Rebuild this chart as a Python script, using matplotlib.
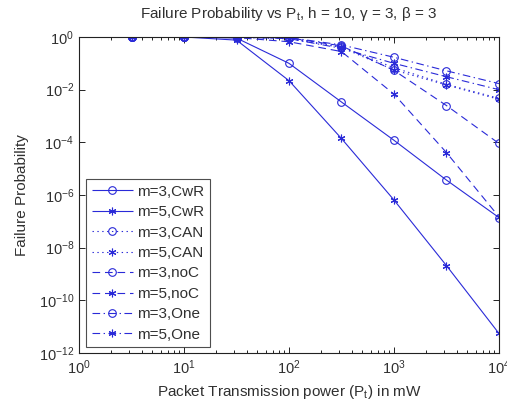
import matplotlib
matplotlib.use("Agg")
import matplotlib.pyplot as plt
from matplotlib.ticker import LogLocator, NullFormatter, NullLocator

plt.rcParams["font.family"] = ["Liberation Sans", "DejaVu Sans"]
plt.rcParams["mathtext.fontset"] = "custom"
plt.rcParams["mathtext.rm"] = "Liberation Sans"
plt.rcParams["mathtext.it"] = "Liberation Sans:italic"
plt.rcParams["lines.scale_dashes"] = False

# transmission power (mW)
POWER = [3.162, 10, 31.62, 100, 316.2, 1000, 3162, 10000]

M3_CWR = [1, 1, 0.91, 0.1, 3.4e-3, 1.2e-4, 3.7e-6, 1.4e-7]
M5_CWR = [1, 1, 0.76, 2.2e-2, 1.4e-4, 6.5e-7, 2.1e-9, 5.6e-12]
M3_CAN = [1, 1, 0.98, 0.89, 0.43, 6.8e-2, 1.6e-2, 4.7e-3]
M5_CAN = [1, 1, 0.98, 0.85, 0.40, 5.6e-2, 1.5e-2, 4.3e-3]
M3_NOC = [1, 1, 0.98, 0.93, 0.46, 5.4e-2, 2.5e-3, 9.1e-5]
M5_NOC = [1, 1, 0.95, 0.66, 0.28, 6.8e-3, 4.1e-5, 1.5e-7]
M3_ONE = [1, 1, 1.0, 0.95, 0.50, 0.17, 5.2e-2, 1.7e-2]
M5_ONE = [1, 1, 0.98, 0.87, 0.37, 0.10, 3.1e-2, 1.0e-2]

LABELS = ["m=3,CwR", "m=5,CwR", "m=3,CAN", "m=5,CAN",
          "m=3,noC", "m=5,noC", "m=3,One", "m=5,One"]

BLUE = "#2a2ad8"
TEXT = "#303030"
STAR = (6, 2, 0)

SOLID = (0, ())
DOTTED = (0, (1.0, 2.5))
DASHED = (0, (5.5, 3.5))
DASHDOT = (0, (5.5, 2.5, 1.0, 2.5))

series = [
    (M3_CWR, SOLID, "o"), (M5_CWR, SOLID, STAR),
    (M3_CAN, DOTTED, "o"), (M5_CAN, DOTTED, STAR),
    (M3_NOC, DASHED, "o"), (M5_NOC, DASHED, STAR),
    (M3_ONE, DASHDOT, "o"), (M5_ONE, DASHDOT, STAR),
]

fig = plt.figure(figsize=(5.07, 4.11), dpi=100)
ax = fig.add_axes([0.156, 0.141, 0.828, 0.769])

for (vals, ls, mk), lab in zip(series, LABELS):
    ax.plot(POWER, vals, linestyle=ls, marker=mk, color=BLUE, linewidth=0.8,
            markersize=5.5, markerfacecolor="none",
            markeredgecolor=BLUE, markeredgewidth=0.8, label=lab)

ax.set_xscale("log")
ax.set_yscale("log")
ax.set_xlim(1, 1e4)
ax.set_ylim(1e-12, 1)
ax.set_yticks([1e-12, 1e-10, 1e-8, 1e-6, 1e-4, 1e-2, 1])
ax.yaxis.set_minor_locator(NullLocator())
ax.xaxis.set_minor_locator(LogLocator(base=10, subs=range(2, 10)))
ax.xaxis.set_minor_formatter(NullFormatter())

ax.tick_params(which="both", direction="in", top=True, right=True,
               colors="#222222", labelcolor=TEXT, labelsize=10.5, width=0.7)
ax.tick_params(which="major", length=4)
ax.tick_params(which="minor", length=2.5)
for s in ax.spines.values():
    s.set_linewidth(0.8)
    s.set_color("#222222")

ax.set_title(r"Failure Probability vs P$_\mathregular{t}$, h = 10, γ = 3, β = 3",
             fontsize=11, color=TEXT, pad=14)
ax.set_xlabel(r"Packet Transmission power (P$_\mathregular{t}$) in mW",
              fontsize=11, color=TEXT, labelpad=5)
ax.set_ylabel("Failure Probability", fontsize=11, color=TEXT, labelpad=7)

leg = ax.legend(loc="lower left", bbox_to_anchor=(0.017, 0.019), fontsize=11,
                frameon=True, fancybox=False, edgecolor="#222222",
                borderaxespad=0, handlelength=2.7, handletextpad=0.3,
                labelspacing=0.42, borderpad=0.35, labelcolor=TEXT)
leg.get_frame().set_linewidth(0.8)

fig.savefig("out.png", dpi=100, facecolor="white")
